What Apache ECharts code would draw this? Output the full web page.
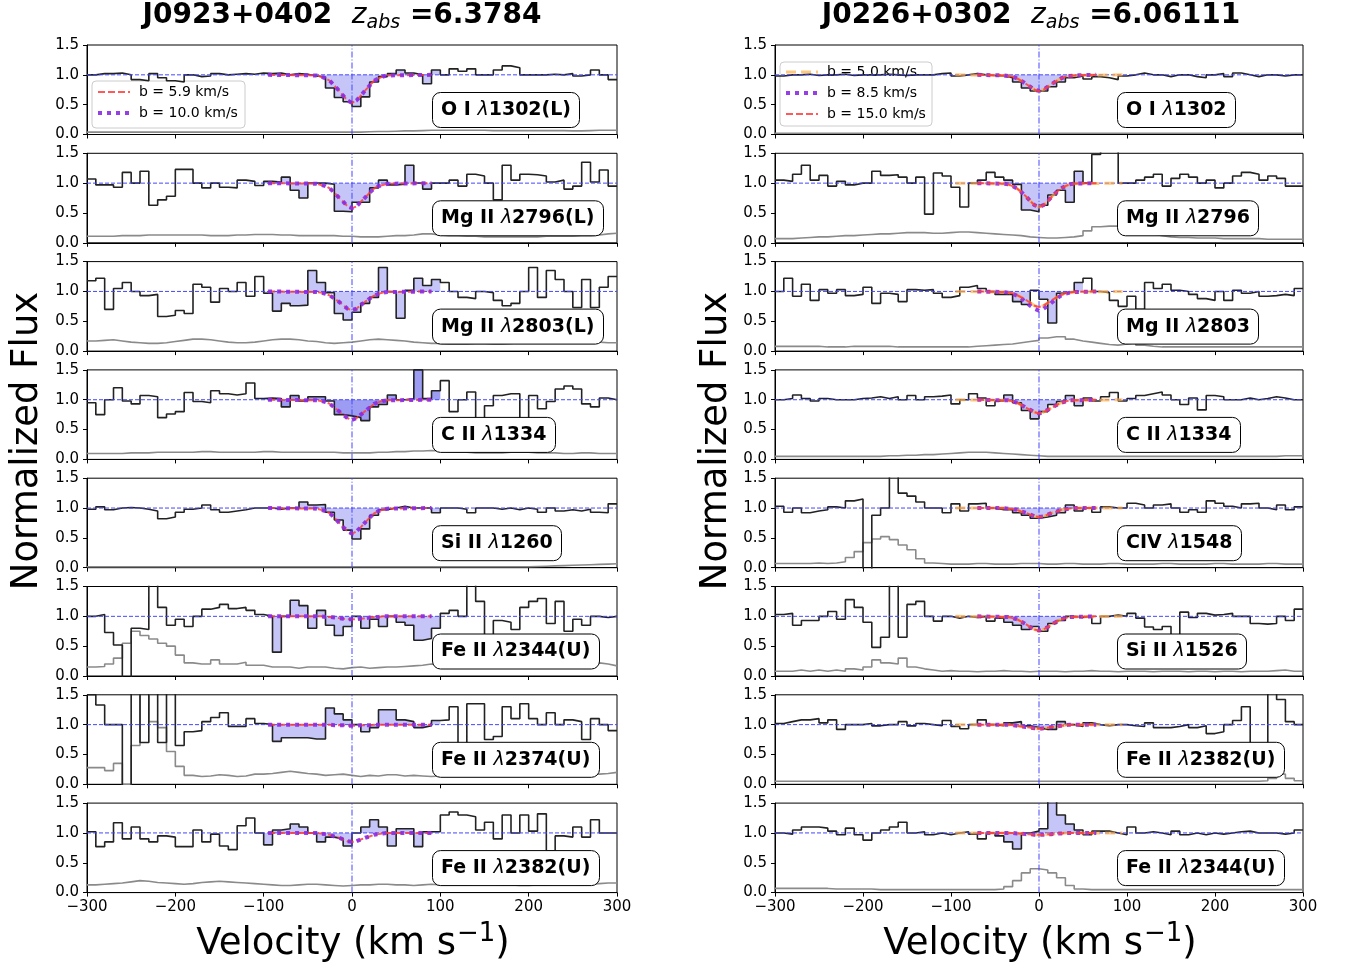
<!DOCTYPE html>
<html><head><meta charset="utf-8">
<script src="https://cdn.jsdelivr.net/npm/echarts@6/dist/echarts.min.js"></script>
<style>html,body{margin:0;padding:0;background:#fff}#c{width:1351px;height:970px}</style>
</head><body><div id="c"></div>
<script>
const FONT = 'DejaVu Sans';
// velocity grid of the spectra (bin start, bin width in km/s)
const velStart = -300, velStep = 10;
// model core grid
const coreStart = -40, coreStep = 5;

// ---------- Left: J0923+0402 ----------
const labelsL = ['O I {l|λ}1302(L)','Mg II {l|λ}2796(L)','Mg II {l|λ}2803(L)','C II {l|λ}1334','Si II {l|λ}1260','Fe II {l|λ}2344(U)','Fe II {l|λ}2374(U)','Fe II {l|λ}2382(U)'];
const fluxL1 = [1.0,1.02,1.02,1.03,1.0,0.92,0.9,1.02,0.95,0.9, 0.88,1.0,0.97,0.98,1.02,1.0,1.01,1.02,1.01,1.03, 1.02,1.03,1.0,1.02,1.01,0.98,0.96,0.78,0.62,0.55, 0.47,0.63,0.88,0.97,1.02,1.08,1.03,1.0,0.85,1.08, 1.0,1.1,1.06,1.1,1.0,1.0,1.08,1.15,1.12,1.0, 1.0,1.0,1.01,1.0,1.02,0.98,1.0,1.08,1.0,0.92];
const fluxL2 = [1.07,0.97,0.97,0.93,1.18,1.0,1.2,0.63,0.72,0.78, 1.23,1.23,1.0,0.92,1.0,0.93,0.92,1.05,1.03,0.96, 1.03,1.02,1.1,0.88,0.75,1.0,1.0,0.98,0.53,0.52, 0.68,0.68,0.92,1.05,0.97,0.98,1.3,1.0,0.9,1.0, 1.0,1.05,0.95,1.15,1.12,1.0,0.72,1.3,1.05,1.15, 1.14,1.12,1.02,1.05,0.9,0.95,1.35,1.02,1.22,0.95];
const fluxL3 = [1.18,1.22,0.7,1.05,1.15,1.0,0.93,0.95,0.58,0.6, 0.68,0.63,1.12,1.07,0.82,1.05,1.0,1.15,0.92,1.25, 0.97,0.67,0.8,0.76,0.77,1.35,1.15,0.98,0.63,0.52, 0.65,0.8,0.9,1.4,1.0,0.55,1.02,1.22,1.1,1.2, 1.15,1.0,0.9,0.88,1.0,0.98,0.85,0.76,0.8,1.0, 1.4,0.9,1.35,1.2,1.0,0.73,1.2,0.73,1.07,1.25];
const fluxL4 = [0.95,0.75,1.0,1.2,0.98,0.93,1.07,1.05,0.7,0.76, 0.8,1.12,0.97,0.95,1.15,1.1,1.08,1.1,1.28,1.02, 1.03,1.02,0.88,1.07,0.98,1.05,1.05,0.98,0.75,0.73, 0.7,0.65,0.88,0.92,1.08,1.0,1.02,1.5,1.02,1.15, 1.32,0.8,1.0,1.13,0.6,0.9,1.07,1.1,1.1,0.68, 1.07,0.85,0.97,1.18,1.23,1.18,0.93,0.88,1.03,1.0];
const fluxL5 = [0.98,1.02,0.97,1.0,1.01,1.0,0.98,0.95,0.82,0.85, 0.93,0.98,1.0,1.05,0.97,0.93,0.95,0.97,1.0,1.0, 1.0,0.98,1.0,1.0,1.1,1.05,1.06,0.93,0.8,0.63, 0.48,0.65,0.88,0.97,1.0,1.03,1.0,1.0,1.0,0.92, 1.0,1.0,0.98,0.92,1.0,1.0,0.98,1.0,0.97,1.0, 0.98,0.93,1.0,0.95,0.97,0.95,0.98,0.93,0.92,1.07];
const fluxL6 = [1.0,1.03,0.73,0.52,-0.05,0.8,0.78,1.8,1.15,0.85, 0.95,0.83,1.0,1.12,1.15,1.2,1.13,1.15,1.1,1.03, 1.0,0.4,1.0,1.27,1.18,0.8,1.1,0.85,0.68,0.83, 1.0,0.8,0.95,0.83,1.0,0.9,0.85,0.6,0.63,0.8, 1.05,1.1,1.0,1.8,1.25,0.6,0.93,0.9,0.78,1.15, 1.25,1.3,0.88,1.25,0.75,0.95,0.85,1.0,0.98,1.0];
const fluxL7 = [1.5,1.33,1.0,1.0,-0.1,1.8,0.7,1.8,0.7,1.8, 0.65,0.88,0.9,1.05,1.12,1.2,0.97,0.97,1.1,1.02, 1.0,0.72,0.78,0.78,0.78,0.76,0.76,1.28,1.18,1.08, 1.0,0.88,0.95,1.25,1.25,1.08,1.05,0.95,0.98,1.07, 1.08,1.3,0.3,1.35,1.35,0.75,0.8,1.3,1.1,1.35, 1.1,1.0,1.2,1.0,1.08,1.05,0.75,1.1,1.0,0.9];
const fluxL8 = [1.02,0.77,0.85,1.17,0.9,1.1,0.9,0.85,0.95,0.93, 0.77,0.77,1.05,0.85,0.98,0.78,0.72,1.12,1.25,1.0, 0.8,1.05,1.07,1.15,1.1,1.0,0.85,0.93,0.9,0.78, 1.0,1.1,1.22,1.1,0.78,1.07,1.07,0.77,1.02,1.02, 1.3,1.35,1.3,1.27,1.05,1.18,0.9,1.3,1.0,1.3, 1.03,1.32,0.7,0.95,0.93,1.1,0.93,1.22,1.0,1.0];

const errL1 = [0.04,0.04,0.04,0.04,0.04,0.04,0.04,0.04,0.04,0.04, 0.04,0.04,0.04,0.04,0.04,0.04,0.04,0.04,0.04,0.04, 0.04,0.04,0.04,0.04,0.04,0.04,0.04,0.04,0.04,0.04, 0.04,0.045,0.05,0.05,0.055,0.06,0.06,0.065,0.07,0.07, 0.07,0.07,0.07,0.07,0.07,0.065,0.065,0.065,0.065,0.065, 0.065,0.065,0.065,0.065,0.06,0.06,0.065,0.07,0.07,0.07];
const errL2 = [0.11,0.11,0.11,0.12,0.12,0.12,0.13,0.13,0.13,0.13, 0.13,0.13,0.13,0.12,0.12,0.12,0.13,0.13,0.14,0.14, 0.14,0.13,0.13,0.12,0.12,0.12,0.12,0.12,0.11,0.11, 0.1,0.1,0.1,0.11,0.12,0.12,0.13,0.15,0.15,0.13, 0.12,0.12,0.11,0.11,0.1,0.1,0.1,0.1,0.1,0.1, 0.1,0.11,0.11,0.11,0.11,0.12,0.12,0.13,0.15,0.16];
const errL3 = [0.17,0.18,0.19,0.17,0.15,0.14,0.13,0.13,0.14,0.16, 0.18,0.2,0.2,0.19,0.17,0.15,0.14,0.14,0.15,0.17, 0.19,0.2,0.2,0.19,0.17,0.16,0.14,0.13,0.14,0.15, 0.17,0.19,0.2,0.19,0.18,0.17,0.15,0.14,0.13,0.13, 0.12,0.12,0.12,0.13,0.13,0.12,0.12,0.13,0.14,0.15, 0.15,0.16,0.16,0.15,0.14,0.15,0.16,0.15,0.14,0.14];
const errL4 = [0.1,0.1,0.1,0.1,0.11,0.11,0.11,0.12,0.12,0.12, 0.12,0.12,0.13,0.13,0.12,0.12,0.12,0.12,0.12,0.13, 0.13,0.12,0.12,0.12,0.12,0.12,0.12,0.12,0.11,0.11, 0.11,0.11,0.12,0.12,0.13,0.13,0.14,0.14,0.15,0.14, 0.13,0.12,0.12,0.11,0.11,0.11,0.11,0.12,0.12,0.12, 0.11,0.11,0.11,0.1,0.1,0.11,0.11,0.1,0.1,0.1];
const errL5 = [0.015,0.015,0.015,0.015,0.015,0.015,0.015,0.015,0.015,0.015, 0.015,0.015,0.015,0.015,0.015,0.015,0.015,0.015,0.015,0.015, 0.015,0.015,0.015,0.015,0.015,0.015,0.015,0.015,0.015,0.015, 0.015,0.015,0.015,0.015,0.015,0.015,0.015,0.015,0.015,0.015, 0.015,0.015,0.015,0.015,0.015,0.015,0.015,0.015,0.015,0.015, 0.02,0.025,0.03,0.035,0.04,0.045,0.05,0.055,0.06,0.065];
const errL6 = [0.15,0.16,0.2,0.3,0.55,0.75,0.68,0.62,0.55,0.5, 0.35,0.22,0.2,0.2,0.27,0.2,0.2,0.23,0.18,0.18, 0.15,0.15,0.15,0.13,0.15,0.15,0.15,0.13,0.12,0.14, 0.15,0.13,0.14,0.15,0.15,0.16,0.17,0.18,0.2,0.17, 0.2,0.22,0.2,0.22,0.2,0.18,0.17,0.18,0.2,0.18, 0.2,0.2,0.22,0.2,0.18,0.2,0.2,0.22,0.2,0.17];
const errL7 = [0.28,0.28,0.23,0.35,0.0,0.65,1.6,1.05,0.95,0.55, 0.3,0.15,0.13,0.14,0.16,0.15,0.13,0.14,0.17,0.17, 0.18,0.2,0.22,0.2,0.18,0.17,0.15,0.16,0.17,0.15, 0.13,0.15,0.14,0.16,0.16,0.14,0.15,0.14,0.13,0.14, 0.15,0.15,0.14,0.14,0.15,0.15,0.14,0.14,0.15,0.16, 0.15,0.15,0.16,0.15,0.15,0.16,0.17,0.17,0.18,0.2];
const errL8 = [0.13,0.14,0.15,0.16,0.18,0.2,0.19,0.17,0.16,0.15, 0.14,0.15,0.17,0.18,0.19,0.18,0.17,0.16,0.15,0.14, 0.13,0.12,0.12,0.13,0.14,0.14,0.13,0.12,0.11,0.12, 0.13,0.13,0.14,0.14,0.13,0.13,0.12,0.13,0.14,0.13, 0.13,0.13,0.13,0.14,0.14,0.14,0.13,0.13,0.12,0.12, 0.13,0.13,0.14,0.14,0.14,0.13,0.14,0.15,0.16,0.16];

// model cores, -40..40 km/s in 5 km/s steps (b = 5.9 and 10.0 km/s overlap)
const modelL1 = [0.99,0.97,0.94,0.9,0.82,0.74,0.65,0.57,0.53,0.57,0.65,0.74,0.82,0.9,0.94,0.97,0.99];
const modelL2 = [0.99,0.97,0.95,0.91,0.84,0.76,0.69,0.61,0.58,0.61,0.69,0.76,0.84,0.91,0.95,0.97,0.99];
const modelL3 = [0.99,0.98,0.96,0.93,0.88,0.83,0.77,0.71,0.69,0.71,0.77,0.83,0.88,0.93,0.96,0.98,0.99];
const modelL4 = [0.99,0.98,0.96,0.93,0.87,0.81,0.75,0.69,0.66,0.69,0.75,0.81,0.87,0.93,0.96,0.98,0.99];
const modelL5 = [0.99,0.97,0.95,0.91,0.84,0.76,0.68,0.61,0.57,0.61,0.68,0.76,0.84,0.91,0.95,0.97,0.99];
const modelL6 = [1.0,1.0,0.99,0.99,0.98,0.97,0.96,0.95,0.95,0.95,0.96,0.97,0.98,0.99,0.99,1.0,1.0];
const modelL7 = [1.0,1.0,1.0,1.0,0.99,0.99,0.99,0.98,0.98,0.98,0.99,0.99,0.99,1.0,1.0,1.0,1.0];
const modelL8 = [1.0,0.99,0.98,0.97,0.94,0.92,0.89,0.86,0.85,0.86,0.89,0.92,0.94,0.97,0.98,0.99,1.0];

// ---------- Right: J0226+0302 ----------
const labelsR = ['O I {l|λ}1302','Mg II {l|λ}2796','Mg II {l|λ}2803','C II {l|λ}1334','CIV {l|λ}1548','Si II {l|λ}1526','Fe II {l|λ}2382(U)','Fe II {l|λ}2344(U)'];
const fluxR1 = [0.98,1.0,1.0,1.01,0.99,1.0,1.0,1.01,0.99,1.0, 1.0,1.0,1.01,1.0,0.99,1.0,1.0,1.0,1.02,1.03, 0.98,1.0,1.02,1.0,0.99,0.98,0.95,0.88,0.78,0.73, 0.73,0.8,0.88,0.95,0.98,0.93,0.97,0.95,0.92,0.98, 1.0,1.03,1.0,1.0,0.97,1.0,1.0,0.97,0.95,1.0, 1.02,0.97,1.03,1.0,0.97,1.0,1.0,0.98,1.0,1.0];
const fluxR2 = [1.05,1.03,1.15,1.3,1.05,1.13,0.95,1.03,0.97,1.0, 1.0,1.2,1.13,1.14,1.1,1.0,1.1,0.48,1.17,1.12, 0.93,0.6,1.0,1.05,1.18,1.1,1.05,0.98,0.55,0.52, 0.63,0.8,0.88,0.68,1.2,1.0,1.48,1.6,1.6,1.0, 1.0,1.05,1.1,1.15,0.95,1.08,1.15,1.1,1.0,1.05, 0.92,1.0,1.12,1.18,1.15,1.05,1.12,1.08,0.95,0.95];
const fluxR3 = [1.0,1.22,0.92,1.12,0.85,1.03,0.97,1.03,0.93,0.95, 1.07,0.8,0.97,0.95,0.83,1.03,1.02,1.03,0.97,0.9, 0.93,1.07,1.1,1.05,1.0,0.95,0.95,0.83,0.78,1.02, 0.87,0.47,0.97,1.0,1.15,1.22,1.0,0.98,0.85,0.75, 0.92,0.7,1.15,1.05,1.12,1.02,1.0,0.95,0.88,0.85, 1.0,0.85,1.02,0.97,1.0,0.92,0.93,0.95,0.93,1.05];
const fluxR4 = [1.0,1.02,1.08,1.02,0.98,1.02,1.0,1.0,1.0,1.02, 1.03,1.05,1.02,1.05,1.0,1.07,1.0,1.05,1.06,1.08, 0.93,1.0,1.1,1.03,0.9,0.98,1.08,0.95,0.82,0.68, 0.8,0.92,0.97,1.07,0.9,1.03,0.98,1.05,1.12,0.98, 1.02,1.07,1.1,1.13,1.08,1.0,0.92,1.03,0.83,1.07, 1.05,1.0,1.0,1.03,1.0,1.02,1.05,1.03,1.0,1.0];
const fluxR5 = [1.03,0.93,1.0,0.92,0.95,0.97,1.02,1.0,1.12,1.15, -0.05,0.88,1.0,1.8,1.25,1.2,1.1,1.0,1.0,0.92, 1.07,0.95,1.07,1.08,1.0,0.97,0.97,0.92,0.88,0.83, 0.85,0.88,0.92,1.05,0.95,1.0,0.93,1.02,1.0,1.0, 1.08,1.05,1.0,1.05,1.07,1.0,0.93,0.97,0.93,1.12, 1.08,1.03,1.0,1.07,1.08,1.0,0.97,1.05,0.97,1.02];
const fluxR6 = [1.03,1.05,0.85,0.93,0.93,1.0,1.08,0.95,1.28,1.15, 0.9,0.48,0.65,1.8,0.65,1.2,1.25,1.0,0.92,1.0, 0.97,1.0,0.98,1.0,0.92,0.97,0.9,0.85,0.78,0.83, 0.75,0.88,0.93,1.0,0.98,1.0,0.88,1.0,1.02,1.0, 1.05,0.97,0.82,0.78,0.83,0.6,1.07,0.98,1.05,1.02, 1.03,1.05,1.0,1.0,0.88,0.87,0.88,1.0,0.93,1.12];
const fluxR7 = [1.02,1.05,1.08,1.08,1.1,1.03,1.08,0.92,1.0,1.0, 1.02,0.98,1.0,1.0,1.05,0.98,1.02,1.0,0.98,1.07, 0.97,0.93,1.0,1.08,1.0,0.98,1.03,1.05,0.98,0.95, 0.92,0.92,1.05,1.0,0.97,1.03,1.0,0.98,1.0,1.0, 0.98,0.97,1.03,0.95,0.95,0.97,1.0,0.95,0.98,0.85, 0.88,1.0,1.07,1.3,0.65,0.65,1.8,1.42,1.05,1.0];
const fluxR8 = [1.0,0.98,1.05,1.1,1.1,1.08,1.03,0.97,1.08,0.97, 0.88,1.0,1.05,1.1,1.18,1.0,1.02,0.97,1.0,0.97, 1.0,1.02,0.98,0.9,1.0,0.95,0.85,0.73,1.0,1.03, 1.07,1.6,1.3,1.15,1.05,0.97,1.03,1.03,1.0,0.97, 1.1,1.0,1.02,1.0,0.97,1.03,0.97,1.0,0.97,1.0, 0.98,1.0,1.02,1.03,1.0,1.0,1.0,0.98,1.0,1.05];

const errR1 = [0.02,0.02,0.02,0.02,0.02,0.02,0.02,0.02,0.02,0.02, 0.02,0.02,0.02,0.02,0.02,0.02,0.02,0.02,0.02,0.02, 0.02,0.02,0.02,0.02,0.02,0.02,0.02,0.02,0.02,0.02, 0.02,0.02,0.02,0.02,0.02,0.02,0.02,0.02,0.02,0.02, 0.02,0.02,0.02,0.02,0.02,0.02,0.02,0.02,0.02,0.02, 0.02,0.02,0.02,0.02,0.02,0.02,0.02,0.02,0.02,0.02];
const errR2 = [0.07,0.07,0.08,0.09,0.1,0.1,0.11,0.12,0.12,0.13, 0.14,0.15,0.15,0.16,0.17,0.17,0.17,0.16,0.16,0.17, 0.18,0.18,0.17,0.16,0.15,0.14,0.13,0.12,0.1,0.09, 0.08,0.08,0.09,0.1,0.12,0.2,0.27,0.28,0.28,0.28, 0.25,0.2,0.15,0.12,0.1,0.09,0.09,0.08,0.08,0.08, 0.07,0.07,0.07,0.07,0.07,0.06,0.06,0.06,0.06,0.06];
const errR3 = [0.08,0.08,0.08,0.08,0.08,0.07,0.07,0.07,0.08,0.08, 0.08,0.08,0.08,0.07,0.07,0.07,0.07,0.07,0.07,0.07, 0.07,0.07,0.08,0.09,0.1,0.11,0.12,0.14,0.16,0.18, 0.22,0.24,0.24,0.2,0.17,0.15,0.13,0.11,0.1,0.12, 0.14,0.1,0.08,0.07,0.07,0.07,0.07,0.07,0.07,0.07, 0.07,0.07,0.07,0.07,0.07,0.07,0.07,0.07,0.07,0.07];
const errR4 = [0.05,0.05,0.05,0.05,0.05,0.05,0.05,0.05,0.05,0.05, 0.05,0.05,0.06,0.06,0.07,0.07,0.08,0.08,0.09,0.1, 0.11,0.12,0.12,0.12,0.11,0.1,0.09,0.08,0.07,0.06, 0.05,0.05,0.05,0.05,0.05,0.05,0.05,0.05,0.05,0.05, 0.05,0.05,0.05,0.05,0.05,0.05,0.05,0.05,0.05,0.05, 0.05,0.05,0.05,0.05,0.05,0.05,0.05,0.06,0.06,0.06];
const errR5 = [0.07,0.07,0.07,0.07,0.08,0.07,0.08,0.1,0.17,0.27, 0.42,0.48,0.52,0.47,0.38,0.3,0.15,0.08,0.07,0.06, 0.06,0.06,0.07,0.07,0.06,0.06,0.06,0.07,0.07,0.07, 0.06,0.06,0.07,0.07,0.06,0.06,0.06,0.07,0.07,0.06, 0.06,0.06,0.06,0.07,0.07,0.06,0.06,0.06,0.06,0.07, 0.07,0.06,0.06,0.06,0.06,0.07,0.07,0.06,0.06,0.06];
const errR6 = [0.08,0.08,0.1,0.08,0.1,0.08,0.1,0.08,0.12,0.1, 0.15,0.27,0.22,0.2,0.3,0.15,0.12,0.1,0.08,0.09, 0.08,0.08,0.07,0.08,0.08,0.09,0.08,0.08,0.07,0.08, 0.08,0.08,0.07,0.08,0.08,0.09,0.08,0.08,0.07,0.08, 0.08,0.08,0.07,0.08,0.08,0.08,0.07,0.08,0.08,0.07, 0.08,0.08,0.07,0.08,0.08,0.08,0.09,0.1,0.08,0.08];
const errR7 = [0.05,0.05,0.05,0.05,0.05,0.05,0.05,0.05,0.05,0.05, 0.05,0.05,0.05,0.05,0.05,0.05,0.05,0.05,0.05,0.05, 0.05,0.05,0.05,0.05,0.05,0.05,0.05,0.05,0.05,0.05, 0.05,0.05,0.05,0.05,0.05,0.05,0.05,0.05,0.05,0.05, 0.05,0.05,0.05,0.05,0.05,0.05,0.05,0.05,0.05,0.05, 0.05,0.05,0.05,0.05,0.05,0.06,0.1,0.17,0.1,0.06];
const errR8 = [0.07,0.07,0.07,0.07,0.07,0.07,0.06,0.06,0.06,0.06, 0.06,0.05,0.05,0.05,0.05,0.05,0.05,0.05,0.05,0.05, 0.05,0.05,0.05,0.05,0.05,0.06,0.1,0.2,0.33,0.4, 0.38,0.33,0.25,0.12,0.06,0.05,0.05,0.05,0.05,0.05, 0.05,0.05,0.05,0.05,0.05,0.05,0.05,0.05,0.05,0.05, 0.05,0.05,0.05,0.05,0.05,0.05,0.05,0.05,0.05,0.05];

// model cores (b = 5.0 / 8.5 / 15.0 km/s nearly overlap)
const modelR1 = [0.99,0.98,0.97,0.94,0.9,0.85,0.8,0.75,0.73,0.75,0.8,0.85,0.9,0.94,0.97,0.98,0.99];
const modelR2 = [0.99,0.98,0.95,0.91,0.85,0.78,0.7,0.63,0.6,0.63,0.7,0.78,0.85,0.91,0.95,0.98,0.99];
const modelR3 = [0.99,0.98,0.97,0.94,0.9,0.86,0.81,0.76,0.74,0.76,0.81,0.86,0.9,0.94,0.97,0.98,0.99];
const modelR3b = [0.99,0.98,0.96,0.93,0.88,0.82,0.76,0.71,0.68,0.71,0.76,0.82,0.88,0.93,0.96,0.98,0.99];
const modelR4 = [0.99,0.99,0.97,0.95,0.91,0.87,0.83,0.79,0.77,0.79,0.83,0.87,0.91,0.95,0.97,0.99,0.99];
const modelR5 = [1.0,0.99,0.98,0.97,0.94,0.92,0.89,0.86,0.85,0.86,0.89,0.92,0.94,0.97,0.98,0.99,1.0];
const modelR6 = [0.99,0.99,0.97,0.95,0.91,0.87,0.82,0.78,0.76,0.78,0.82,0.87,0.91,0.95,0.97,0.99,0.99];
const modelR7 = [1.0,1.0,0.99,0.98,0.97,0.96,0.95,0.94,0.93,0.94,0.95,0.96,0.97,0.98,0.99,1.0,1.0];
const modelR8 = [1.0,1.0,1.0,0.99,0.99,0.98,0.98,0.97,0.97,0.97,0.98,0.98,0.99,0.99,1.0,1.0,1.0];

const fluxL = [fluxL1,fluxL2,fluxL3,fluxL4,fluxL5,fluxL6,fluxL7,fluxL8];
const errL = [errL1,errL2,errL3,errL4,errL5,errL6,errL7,errL8];
const modelL = [modelL1,modelL2,modelL3,modelL4,modelL5,modelL6,modelL7,modelL8];
const fluxR = [fluxR1,fluxR2,fluxR3,fluxR4,fluxR5,fluxR6,fluxR7,fluxR8];
const errR = [errR1,errR2,errR3,errR4,errR5,errR6,errR7,errR8];
const modelR = [modelR1,modelR2,modelR3,modelR4,modelR5,modelR6,modelR7,modelR8];
const modelRpurple = [modelR1,modelR2,modelR3b,modelR4,modelR5,modelR6,modelR7,modelR8];

const legendL = ['b = 5.9 km/s','b = 10.0 km/s'];
const legendR = ['b = 5.0 km/s','b = 8.5 km/s','b = 15.0 km/s'];

// ---------- helpers ----------
function stepPts(vals){
  const p = vals.map((v,i)=>[velStart+i*velStep, v]);
  p.push([velStart+vals.length*velStep, vals[vals.length-1]]);
  return p;
}
function windowPts(vals,a,b){
  const p=[];
  vals.forEach((v,i)=>{const x=velStart+i*velStep; if(x>=a && x<b) p.push([x,v]);});
  p.push([b,p[p.length-1][1]]);
  return p;
}
function modelPts(core,a,b){
  const p=[[a,1.0]];
  core.forEach((v,i)=>p.push([coreStart+i*coreStep,v]));
  p.push([b,1.0]);
  return p;
}

const cols = [{left:87,width:530},{left:775,width:528}];
const panelTop = k => 45 + 108.3*k;
const panelH = 89.5;

const grid=[], xAxis=[], yAxis=[], series=[], title=[];
const RED='rgba(255,60,60,0.85)', PURPLE='rgba(138,43,226,0.9)', ORANGE='rgba(255,170,60,0.65)';
const FILL='rgba(90,90,235,0.35)', FILLDARK='rgba(90,90,235,0.6)';
const REFBLUE='#4646ff';
const STY = {
  red:{color:RED,width:2,dash:[7,3]},
  purple:{color:PURPLE,width:4,dash:[4,5]},
  orange:{color:ORANGE,width:3,dash:[10,5]}
};

for(let c=0;c<2;c++){
  for(let k=0;k<8;k++){
    const gi = c*8+k;
    grid.push({left:cols[c].left, width:cols[c].width, top:panelTop(k), height:panelH, show:true, borderColor:'#000', borderWidth:1, backgroundColor:'transparent'});
    xAxis.push({gridIndex:gi, type:'value', min:-300, max:300, interval:100,
      axisLine:{show:true,onZero:false,lineStyle:{color:'#000',width:1}},
      axisTick:{show:true,length:4,lineStyle:{color:'#000'}},
      axisLabel:{show:k===7, fontFamily:FONT, fontSize:15, color:'#000', margin:7,
        formatter:v=> v<0 ? '\u2212'+(-v) : String(v)},
      splitLine:{show:false}});
    yAxis.push({gridIndex:gi, type:'value', min:0, max:1.5, interval:0.5,
      axisLine:{show:true,onZero:false,lineStyle:{color:'#000',width:1}},
      axisTick:{show:true,length:4,lineStyle:{color:'#000'}},
      axisLabel:{fontFamily:FONT, fontSize:15, color:'#000', margin:8, formatter:v=>v.toFixed(1)},
      splitLine:{show:false}});
    const flux = c===0 ? fluxL[k] : fluxR[k];
    const err = c===0 ? errL[k] : errR[k];
    const win = c===0 ? [-100,100] : [-40,50];
    const base = {type:'line', xAxisIndex:gi, yAxisIndex:gi, symbol:'none', silent:true, animation:false};
    const mk = (name,data,s,z)=>Object.assign({}, base, {name, data, z, lineStyle:{color:s.color, width:s.width, type:s.dash}});
    series.push(Object.assign({}, base, {name:'fill'+gi, step:'end', data:windowPts(flux,win[0],win[1]), z:1,
      lineStyle:{width:0}, areaStyle:{origin:1, color:(c===0&&k===3)?FILLDARK:FILL, opacity:1}}));
    series.push(Object.assign({}, base, {name:'err'+gi, step:'end', data:stepPts(err), z:2,
      lineStyle:{color:'#8a8a8a', width:1.6}}));
    series.push(Object.assign({}, base, {name:'flux'+gi, step:'end', data:stepPts(flux), z:3,
      lineStyle:{color:'#222', width:1.6}}));
    series.push(Object.assign({}, base, {name:'cont'+gi, data:[[-300,1],[300,1]], z:4,
      lineStyle:{color:REFBLUE, width:1, type:[4,2]}}));
    series.push(Object.assign({}, base, {name:'zero'+gi, data:[[0,0],[0,1.5]], z:4,
      lineStyle:{color:REFBLUE, width:1, type:[6,2,1,2]}}));
    if(c===0){
      series.push(mk(legendL[0], modelPts(modelL[k],-95,90), STY.red, 5));
      series.push(mk(legendL[1], modelPts(modelL[k],-95,90), STY.purple, 6));
      title.push({text:labelsL[k], left:432, top:panelTop(k)+47});
    } else {
      series.push(mk(legendR[0], modelPts(modelR[k],-95,95), STY.orange, 5));
      series.push(mk(legendR[1], modelPts(modelRpurple[k],-70,65), STY.purple, 6));
      series.push(mk(legendR[2], modelPts(modelR[k],-70,65), STY.red, 7));
      title.push({text:labelsR[k], left:1117, top:panelTop(k)+47});
    }
  }
}
title.forEach(t=>{
  Object.assign(t,{z:10, backgroundColor:'#fff', borderColor:'#000', borderWidth:1, borderRadius:8, padding:[7,9,7,9],
    textStyle:{fontFamily:FONT, fontSize:19, fontWeight:'bold', color:'#000', lineHeight:22,
      rich:{l:{fontFamily:FONT, fontSize:19, fontStyle:'italic', fontWeight:'normal', color:'#000', lineHeight:22}}}});
});

const bigFont = 37;
const graphic = [
  {type:'text', x:27, y:441, rotation:Math.PI/2, z:10,
   style:{text:'Normalized Flux', fontFamily:FONT, fontSize:bigFont, fill:'#000', align:'center', verticalAlign:'middle', textAlign:'center', textVerticalAlign:'middle'}},
  {type:'text', x:716, y:441, rotation:Math.PI/2, z:10,
   style:{text:'Normalized Flux', fontFamily:FONT, fontSize:bigFont, fill:'#000', align:'center', verticalAlign:'middle', textAlign:'center', textVerticalAlign:'middle'}},
];
function velLabel(x){
  return {type:'text', x:x, y:944, z:10, style:{
    text:'{n|Velocity (km s}{s|\u22121}{n|)}', align:'center', verticalAlign:'middle', textAlign:'center', textVerticalAlign:'middle',
    rich:{n:{fontFamily:FONT, fontSize:bigFont, fill:'#000', lineHeight:46},
          s:{fontFamily:FONT, fontSize:26, fill:'#000', lineHeight:46, verticalAlign:'top', padding:[0,0,18,1]}}}};
}
graphic.push(velLabel(353), velLabel(1040));
function topTitle(x, name, z){
  return {type:'text', x:x, y:16, z:10, style:{
    text:'{b|'+name+'  }{i|z}{s|abs}{b| ='+z+'}', align:'center', verticalAlign:'middle', textAlign:'center', textVerticalAlign:'middle',
    rich:{b:{fontFamily:FONT, fontSize:28, fontWeight:'bold', fill:'#000', lineHeight:34},
          i:{fontFamily:FONT, fontSize:28, fontStyle:'italic', fill:'#000', lineHeight:34},
          s:{fontFamily:FONT, fontSize:19, fontStyle:'italic', fill:'#000', lineHeight:34, verticalAlign:'bottom', padding:[10,0,0,0]}}}};
}
graphic.push(topTitle(342,'J0923+0402','6.3784'), topTitle(1031,'J0226+0302','6.06111'));

// legend boxes drawn as graphics (line samples + real text)
function legendBox(x,y,w,h,lineX1,lineX2,textX,rows){
  const children=[{type:'rect', shape:{x:x,y:y,width:w,height:h,r:4},
    style:{fill:'rgba(255,255,255,0.8)', stroke:'#cccccc', lineWidth:1}}];
  rows.forEach(r=>{
    children.push({type:'line', shape:{x1:lineX1,y1:r.y,x2:lineX2,y2:r.y},
      style:{stroke:r.s.color, lineWidth:r.s.width, lineDash:r.s.dash}});
    children.push({type:'text', x:textX, y:r.y, style:{text:r.text, fontFamily:FONT, fontSize:14, fill:'#000',
      align:'left', verticalAlign:'middle', textAlign:'left', textVerticalAlign:'middle'}});
  });
  return {type:'group', z:20, children};
}
graphic.push(legendBox(92,81,153,47,98,130,139,[
  {y:92, s:STY.red, text:legendL[0]},
  {y:113, s:STY.purple, text:legendL[1]}]));
graphic.push(legendBox(780,62,152,64,786,818,827,[
  {y:72, s:STY.orange, text:legendR[0]},
  {y:93, s:STY.purple, text:legendR[1]},
  {y:114, s:STY.red, text:legendR[2]}]));

const option = {
  animation:false,
  backgroundColor:'#fff',
  grid, xAxis, yAxis, series, title, graphic
};
const chart = echarts.init(document.getElementById('c'));
chart.setOption(option);
</script></body></html>
